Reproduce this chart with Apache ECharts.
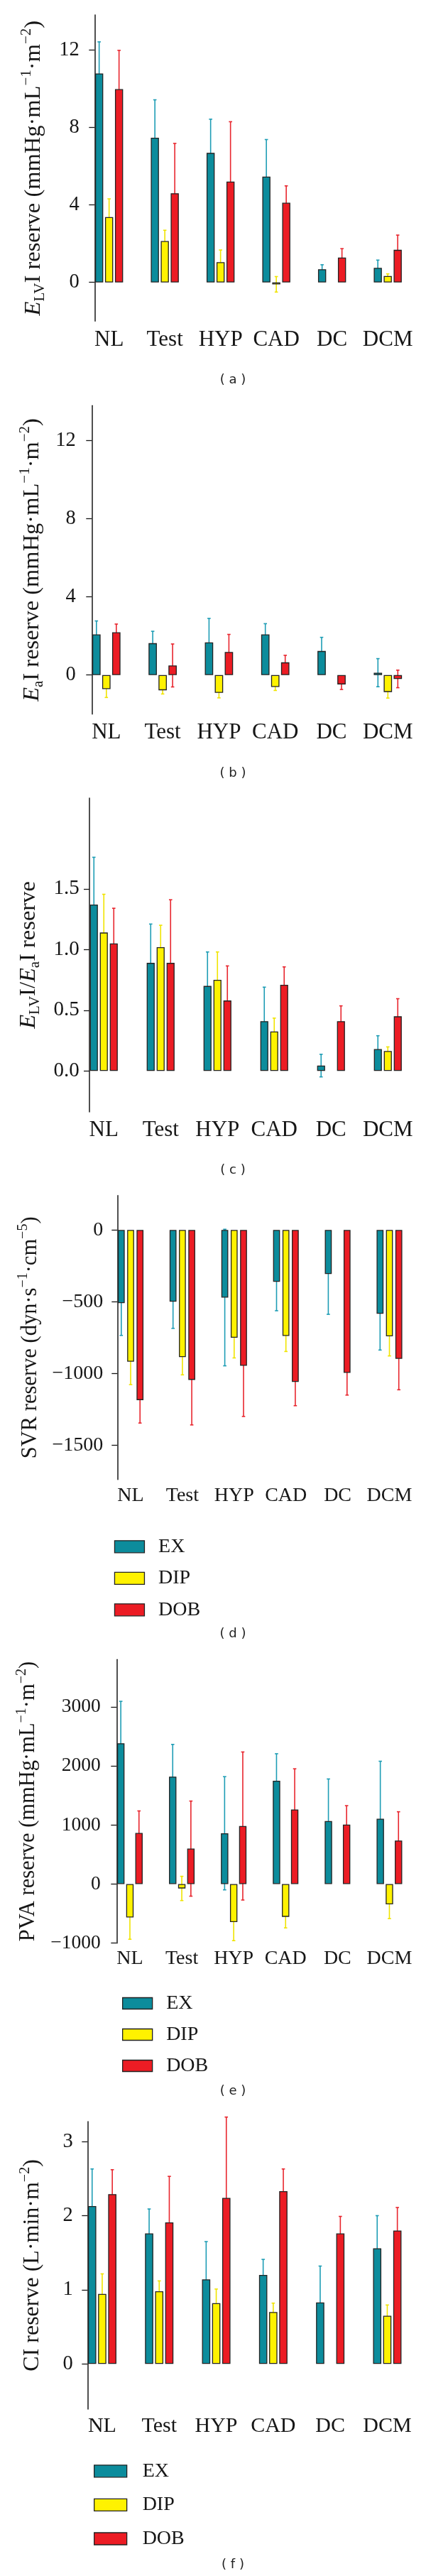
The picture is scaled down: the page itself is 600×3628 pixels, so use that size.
<!DOCTYPE html>
<html><head><meta charset="utf-8">
<script src="https://cdn.jsdelivr.net/npm/echarts@6/dist/echarts.min.js"></script>
<style>html,body{margin:0;padding:0;background:#fff}#c{width:600px;height:3628px}</style>
</head><body><div id="c"></div>
<script>
// ---------- DATA ----------
const categories = ['NL', 'Test', 'HYP', 'CAD', 'DC', 'DCM'];
const seriesNames = ['EX', 'DIP', 'DOB'];

// (a) E_LV I reserve
const elvEX = [10.78, 7.46, 6.68, 5.46, 0.68, 0.75];
const elvEXsd = [1.63, 1.96, 1.74, 1.91, 0.23, 0.40];
const elvDIP = [3.37, 2.13, 1.04, -0.10, null, 0.33];
const elvDIPsd = [0.94, 0.56, 0.63, 0.40, null, 0.11];
const elvDOB = [9.97, 4.60, 5.20, 4.11, 1.28, 1.68];
const elvDOBsd = [2.00, 2.57, 3.09, 0.87, 0.46, 0.76];
const elvTicks = [0, 4, 8, 12];

// (b) E_a I reserve
const eaEX = [2.08, 1.63, 1.67, 2.08, 1.23, 0.12];
const eaEXsd = [0.69, 0.61, 1.23, 0.55, 0.70, 0.72];
const eaDIP = [-0.72, -0.78, -0.91, -0.61, null, -0.87];
const eaDIPsd = [0.43, 0.19, 0.26, 0.18, null, 0.31];
const eaDOB = [2.19, 0.49, 1.18, 0.65, -0.48, -0.20];
const eaDOBsd = [0.42, 1.10, 0.90, 0.36, 0.26, 0.45];
const eaTicks = [0, 4, 8, 12];

// (c) E_LV I / E_a I reserve
const ratioEX = [1.37, 0.89, 0.70, 0.41, 0.044, 0.18];
const ratioEXsd = [0.39, 0.32, 0.28, 0.28, 0.093, 0.11];
const ratioDIP = [1.14, 1.02, 0.75, 0.325, null, 0.164];
const ratioDIPsd = [0.315, 0.18, 0.23, 0.11, null, 0.034];
const ratioDOB = [1.05, 0.89, 0.58, 0.71, 0.41, 0.45];
const ratioDOBsd = [0.29, 0.52, 0.285, 0.147, 0.126, 0.145];
const ratioTicks = [0, 0.5, 1.0, 1.5];

// (d) SVR reserve
const svrEX = [-510, -500, -471, -361, -307, -584];
const svrEXsd = [225, 186, 476, 202, 281, 253];
const svrDIP = [-918, -886, -751, -739, null, -741];
const svrDIPsd = [160, 124, 141, 108, null, 137];
const svrDOB = [-1186, -1045, -947, -1059, -996, -898];
const svrDOBsd = [160, 314, 353, 166, 155, 216];
const svrTicks = [-1500, -1000, -500, 0];

// (e) PVA reserve
const pvaEX = [2383, 1818, 860, 1749, 1066, 1106];
const pvaEXsd = [710, 546, 958, 457, 713, 973];
const pvaDIP = [-565, -74, -644, -555, null, -344];
const pvaDIPsd = [369, 205, 314, 187, null, 241];
const pvaDOB = [865, 600, 983, 1263, 1007, 737];
const pvaDOBsd = [373, 805, 1253, 688, 320, 487];
const pvaTicks = [-1000, 0, 1000, 2000, 3000];

// (f) CI reserve
const ciEX = [2.13, 1.76, 1.14, 1.20, 0.83, 1.56];
const ciEXsd = [0.50, 0.33, 0.51, 0.21, 0.49, 0.44];
const ciDIP = [0.945, 0.98, 0.82, 0.70, null, 0.65];
const ciDIPsd = [0.27, 0.14, 0.19, 0.12, null, 0.145];
const ciDOB = [2.29, 1.91, 2.24, 2.33, 1.76, 1.80];
const ciDOBsd = [0.33, 0.62, 1.09, 0.30, 0.23, 0.31];
const ciTicks = [0, 1, 2, 3];

const captions = ['( a )', '( b )', '( c )', '( d )', '( e )', '( f )'];

// ---------- STYLE / LAYOUT ----------
const SERIF = 'Liberation Serif, DejaVu Serif, serif';
const INK = '#161616';
const BORDER = 1.3;
const barColors = ['#0c8c9c', '#fff200', '#ec1c24'];
const errColors = ['#1e9db5', '#f0e400', '#e8262e'];
const minusFmt = v => String(v).replace('-', '\u2212');

const panels = [
  { means: [elvEX, elvDIP, elvDOB], sds: [elvEXsd, elvDIPsd, elvDOBsd], ticks: elvTicks, fmt: minusFmt,
    title: '{it|E}{sub|LV}I reserve (mmHg·mL{sup|\u22121}·m{sup|\u22122})' },
  { means: [eaEX, eaDIP, eaDOB], sds: [eaEXsd, eaDIPsd, eaDOBsd], ticks: eaTicks, fmt: minusFmt,
    title: '{it|E}{sub|a}I reserve (mmHg·mL{sup|\u22121}·m{sup|\u22122})' },
  { means: [ratioEX, ratioDIP, ratioDOB], sds: [ratioEXsd, ratioDIPsd, ratioDOBsd], ticks: ratioTicks, fmt: v => v.toFixed(1),
    title: '{it|E}{sub|LV}I/{it|E}{sub|a}I reserve' },
  { means: [svrEX, svrDIP, svrDOB], sds: [svrEXsd, svrDIPsd, svrDOBsd], ticks: svrTicks, fmt: minusFmt,
    title: 'SVR reserve (dyn·s{sup|\u22121}·cm{sup|\u22125})' },
  { means: [pvaEX, pvaDIP, pvaDOB], sds: [pvaEXsd, pvaDIPsd, pvaDOBsd], ticks: pvaTicks, fmt: minusFmt,
    title: 'PVA reserve (mmHg·mL{sup|\u22121}·m{sup|\u22122})' },
  { means: [ciEX, ciDIP, ciDOB], sds: [ciEXsd, ciDIPsd, ciDOBsd], ticks: ciTicks, fmt: minusFmt,
    title: 'CI reserve (L·min·m{sup|\u22122})' }
];

const layout = [
  { axisX: 133.3, sp: 78.5, c: 14, v: 12.7, min: -2, max: 13.8, top: 21, bottom: 452.3, tickFont: 28.5, catFont: 31, catMargin: 27, labelMargin: 21.6, titleFont: 32.5, titleCX: 47, cap: 535.8 },
  { axisX: 129.3, sp: 79.3, c: 14, v: 13, min: -2, max: 13.8, top: 571.2, bottom: 1005.7, tickFont: 28.5, catFont: 31, catMargin: 26, labelMargin: 22.6, titleFont: 32.5, titleCX: 45, cap: 1089 },
  { axisX: 126, sp: 80, c: 14, v: 12.5, min: -0.337, max: 2.247, top: 1124.1, bottom: 1565.9, tickFont: 29, catFont: 31, catMargin: 25.5, labelMargin: 14.3, titleFont: 32.5, titleCX: 40, cap: 1648 },
  { axisX: 165.3, sp: 72.9, c: 13.2, v: 11, min: -1740, max: 240, top: 1683.8, bottom: 2083.8, tickFont: 28, catFont: 28, catMargin: 22.4, labelMargin: 20, titleFont: 30.5, titleCX: 46, cap: 2301.4,
    legend: { left: 160.8, top: 2164.3, w: 42, h: 17, gap: 16.5, pad: 14.6 } },
  { axisX: 164.3, sp: 73.1, c: 12.8, v: 11.7, min: -1000, max: 3800, top: 2337.3, bottom: 2736.7, tickFont: 27.5, catFont: 28, catMargin: 21.6, labelMargin: 22.6, titleFont: 30.5, titleCX: 46, cap: 2945.7,
    legend: { left: 172, top: 2807.5, w: 42, h: 16, gap: 16, pad: 14.5 } },
  { axisX: 123.3, sp: 80.3, c: 14.2, v: 12.9, min: -0.61, max: 3.27, top: 2987.9, bottom: 3393, tickFont: 28.5, catFont: 30, catMargin: 24, labelMargin: 20.6, titleFont: 32, titleCX: 46, cap: 3612.7,
    legend: { left: 132, top: 3466.3, w: 46, h: 17, gap: 19.6, pad: 17 } }
];

// ---------- BUILD ----------
const option = { animation: false, backgroundColor: '#ffffff', grid: [], xAxis: [], yAxis: [], series: [], legend: [], graphic: [] };
const TITLE_LH = 40;

layout.forEach((L, k) => {
  const D = panels[k];
  const gw = 2 * L.c + L.v;
  const gridLeft = L.axisX + gw / 2 - L.sp / 2;
  const gridW = 6 * L.sp;
  option.grid.push({ left: gridLeft, top: L.top, width: gridW, height: L.bottom - L.top, containLabel: false, outerBoundsMode: 'none' });
  option.xAxis.push({
    gridIndex: k, type: 'category', data: categories, position: 'bottom',
    axisLine: { show: false, onZero: false }, axisTick: { show: false }, splitLine: { show: false },
    axisLabel: { interval: 0, hideOverlap: false, fontFamily: SERIF, fontSize: L.catFont, color: INK, margin: L.catMargin, verticalAlign: 'middle' }
  });
  const F = L.titleFont, S = Math.round(F * 0.64);
  option.yAxis.push({
    gridIndex: k, type: 'value', min: L.min, max: L.max, position: 'left', offset: -(L.axisX - gridLeft),
    splitLine: { show: false },
    axisLine: { show: true, onZero: false, lineStyle: { color: INK, width: 1.5 } },
    axisTick: { show: true, length: 8, customValues: D.ticks, lineStyle: { color: INK, width: 1.3 } },
    axisLabel: { customValues: D.ticks, formatter: D.fmt, fontFamily: SERIF, fontSize: L.tickFont, color: INK, margin: L.labelMargin },
    name: D.title, nameLocation: 'middle', nameGap: L.axisX - L.titleCX - TITLE_LH / 2,
    nameTextStyle: {
      fontFamily: SERIF, fontSize: F, color: INK, lineHeight: TITLE_LH,
      rich: {
        it: { fontFamily: SERIF, fontSize: F, fontStyle: 'italic', color: INK, lineHeight: TITLE_LH },
        sub: { fontFamily: SERIF, fontSize: S, color: INK, lineHeight: S, verticalAlign: 'bottom' },
        sup: { fontFamily: SERIF, fontSize: S, color: INK, lineHeight: S + 2, verticalAlign: 'top' }
      }
    }
  });
  const bw = L.v - BORDER;
  const gapPct = ((L.c - bw) / bw * 100).toFixed(1) + '%';
  seriesNames.forEach((nm, j) => {
    option.series.push({
      type: 'bar', name: nm, xAxisIndex: k, yAxisIndex: k, data: D.means[j],
      barWidth: bw, barGap: gapPct, z: 3,
      itemStyle: { color: barColors[j], borderColor: '#222', borderWidth: BORDER }
    });
  });
  seriesNames.forEach((nm, j) => {
    const off = (j - 1) * L.c;
    const col = errColors[j];
    const data = [];
    D.means[j].forEach((m, i) => { if (m != null) data.push([i, m, D.sds[j][i]]); });
    option.series.push({
      type: 'custom', name: nm + ' sd', xAxisIndex: k, yAxisIndex: k, z: 1, clip: false,
      encode: { x: 0, y: 1 }, data: data,
      renderItem: function (params, api) {
        const i = api.value(0), m = api.value(1), s = api.value(2);
        const t = api.coord([i, m + s]);
        const b = api.coord([i, m - s]);
        const x = t[0] + off;
        const st = { stroke: col, lineWidth: 1.6 };
        return {
          type: 'group', children: [
            { type: 'line', shape: { x1: x, y1: t[1], x2: x, y2: b[1] }, style: st },
            { type: 'line', shape: { x1: x - 2.3, y1: t[1], x2: x + 2.3, y2: t[1] }, style: st },
            { type: 'line', shape: { x1: x - 2.3, y1: b[1], x2: x + 2.3, y2: b[1] }, style: st }
          ]
        };
      }
    });
  });
  if (L.legend) {
    const G = L.legend;
    option.legend.push({
      data: seriesNames, orient: 'vertical', left: G.left, top: G.top, padding: 0,
      itemWidth: G.w, itemHeight: G.h, itemGap: G.gap, icon: 'rect', selectedMode: false,
      itemStyle: { borderColor: '#222', borderWidth: BORDER },
      textStyle: { fontFamily: SERIF, fontSize: 28, color: INK, lineHeight: 20, padding: [0, 0, 0, G.pad] }
    });
  }
  option.graphic.push({
    type: 'text', x: 328, y: L.cap,
    style: { text: captions[k], fontFamily: 'DejaVu Sans', fontSize: 18, fill: '#222', align: 'center', verticalAlign: 'middle' }
  });
});

const chart = echarts.init(document.getElementById('c'), null, { renderer: 'canvas' });
chart.setOption(option);
</script></body></html>
